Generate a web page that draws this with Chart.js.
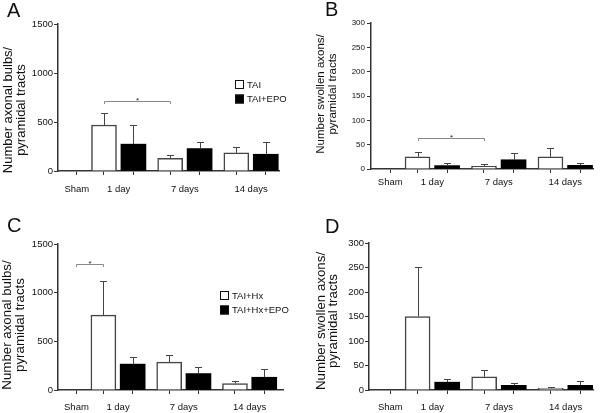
<!DOCTYPE html>
<html>
<head>
<meta charset="utf-8">
<script src="https://cdn.jsdelivr.net/npm/chart.js@4.4.1/dist/chart.umd.min.js"></script>
<style>
  body { margin: 0; background: #fff; }
  canvas { position: absolute; }
</style>
</head>
<body>
<canvas id="panelA" width="300" height="205" style="left:0;top:0"></canvas>
<canvas id="panelB" width="300" height="205" style="left:300px;top:0"></canvas>
<canvas id="panelC" width="300" height="208" style="left:0;top:205px"></canvas>
<canvas id="panelD" width="300" height="208" style="left:300px;top:205px"></canvas>
<script>
var groups = ['Sham', '1 day', '7 days', '14 days'];

// A - axonal bulbs, TAI vs TAI+EPO (mean, SEM; sham = 0)
var bulbsTai = [469, 130, 185];
var bulbsTaiSem = [120, 31, 65];
var bulbsTaiEpo = [274, 229, 171];
var bulbsTaiEpoSem = [195, 72, 120];

// B - swollen axons, TAI vs TAI+EPO
var swollenTai = [25, 5.5, 25];
var swollenTaiSem = [9, 4.5, 19];
var swollenTaiEpo = [7, 19, 7.5];
var swollenTaiEpoSem = [5, 13, 4.5];

// C - axonal bulbs, TAI+Hx vs TAI+Hx+EPO
var bulbsHx = [769, 286, 66];
var bulbsHxSem = [355, 76, 27];
var bulbsHxEpo = [266, 169, 131];
var bulbsHxEpoSem = [68, 69, 83];

// D - swollen axons, TAI+Hx vs TAI+Hx+EPO
var swollenHx = [150, 27, 3.4];
var swollenHxSem = [102, 13, 3.4];
var swollenHxEpo = [16, 9.5, 9.5];
var swollenHxEpoSem = [6, 4, 8];

var bulbTicks = [0, 500, 1000, 1500];
var swollenTicks = [0, 50, 100, 150, 200, 250, 300];

Chart.defaults.font.family = '"Liberation Sans", Arial, Helvetica, sans-serif';
Chart.defaults.color = '#111';

// sham sits alone, then one pair of bars every 2 units
var shamX = 0.18, pairGap = 0.89;
function groupX(g) { return 1 + 2 * g; }

var errorBars = {
  id: 'errorBars',
  afterDatasetsDraw: function(chart) {
    var ctx = chart.ctx, y = chart.scales.y;
    ctx.save();
    ctx.strokeStyle = '#444';
    ctx.lineWidth = 1;
    chart.data.datasets.forEach(function(ds, i) {
      chart.getDatasetMeta(i).data.forEach(function(bar, j) {
        var x = Math.round(bar.x) + 0.5;
        var top = Math.round(y.getPixelForValue(ds.data[j].y + ds.errors[j])) + 0.5;
        ctx.beginPath();
        ctx.moveTo(x, bar.y);
        ctx.lineTo(x, top);
        ctx.moveTo(x - 3.5, top);
        ctx.lineTo(x + 3.5, top);
        ctx.stroke();
      });
    });
    ctx.restore();
  }
};

// letter, two-line y title, legend, significance bracket
var panelDecor = {
  id: 'panelDecor',
  afterDraw: function(chart, args, o) {
    var ctx = chart.ctx;
    ctx.save();
    ctx.fillStyle = '#111';
    ctx.font = '20px "Liberation Sans", Arial, sans-serif';
    ctx.textAlign = 'left';
    ctx.textBaseline = 'alphabetic';
    ctx.fillText(o.letter, o.letterX, o.letterY);

    ctx.font = o.titleSize + 'px "Liberation Sans", Arial, sans-serif';
    ctx.textAlign = 'center';
    ctx.textBaseline = 'middle';
    o.title.forEach(function(line, i) {
      ctx.save();
      ctx.translate(o.titleX[i], o.titleY);
      ctx.rotate(-Math.PI / 2);
      ctx.fillText(line, 0, 0);
      ctx.restore();
    });

    if (o.legendX) {
      ctx.font = '9.5px "Liberation Sans", Arial, sans-serif';
      ctx.textAlign = 'left';
      chart.data.datasets.forEach(function(ds, i) {
        var y = o.legendY + i * 14.5;
        ctx.fillStyle = ds.backgroundColor;
        ctx.fillRect(o.legendX, y, 9, 9);
        ctx.strokeStyle = '#111';
        ctx.lineWidth = 1;
        ctx.strokeRect(o.legendX + 0.5, y + 0.5, 8, 8);
        ctx.fillStyle = '#111';
        ctx.fillText(ds.label, o.legendX + 12, y + 5);
      });
    }

    if (o.bracket) {
      var xs = chart.scales.x, ys = chart.scales.y;
      var x1 = Math.round(xs.getPixelForValue(o.bracket[0])) + 0.5;
      var x2 = Math.round(xs.getPixelForValue(o.bracket[1])) + 0.5;
      var by = Math.round(ys.getPixelForValue(o.bracket[2])) + 0.5;
      ctx.strokeStyle = '#888';
      ctx.lineWidth = 1;
      ctx.beginPath();
      ctx.moveTo(x1, by + 2.5);
      ctx.lineTo(x1, by);
      ctx.lineTo(x2, by);
      ctx.lineTo(x2, by + 2.5);
      ctx.stroke();
      ctx.fillStyle = '#222';
      ctx.font = '8px "Liberation Sans", Arial, sans-serif';
      ctx.textAlign = 'center';
      ctx.textBaseline = 'alphabetic';
      ctx.fillText('*', (x1 + x2) / 2, by + 1);
    }
    ctx.restore();
  }
};

function makePanel(id, o) {
  var canvas = document.getElementById(id);
  var W = canvas.width, H = canvas.height, a = o.area;
  var barX = [shamX], labelX = [shamX];
  for (var g = 0; g < 3; g++) {
    barX.push(groupX(g), groupX(g) + pairGap);
    labelX.push(groupX(g) + pairGap / 2);
  }
  function pts(vals, off) {
    return vals.map(function(v, g) { return { x: groupX(g) + off, y: v }; });
  }
  return new Chart(canvas, {
    type: 'bar',
    data: {
      datasets: [{
        label: o.names[0],
        data: pts(o.white, 0),
        errors: o.whiteSem,
        backgroundColor: '#ffffff',
        borderColor: '#444',
        borderWidth: 1.5,
        barThickness: 25,
        grouped: false
      }, {
        label: o.names[1],
        data: pts(o.black, pairGap),
        errors: o.blackSem,
        backgroundColor: '#000000',
        borderColor: '#000000',
        borderWidth: 0,
        barThickness: 25,
        grouped: false
      }]
    },
    options: {
      responsive: false,
      animation: false,
      events: [],
      layout: { padding: { left: 0, top: a.top, right: W - a.right, bottom: 0 } },
      plugins: { legend: { display: false }, tooltip: { enabled: false }, panelDecor: o.decor },
      scales: {
        x: {
          type: 'linear', min: o.xRange[0], max: o.xRange[1], weight: 0, offset: false,
          ticks: { display: false },
          grid: { drawOnChartArea: false, tickLength: 4, color: '#333', offset: false },
          border: { color: '#333', width: 1.5 },
          afterBuildTicks: function(s) { s.ticks = barX.map(function(v) { return { value: v }; }); },
          afterFit: function(s) { s.height = 0; }
        },
        x2: {
          type: 'linear', position: 'bottom', min: o.xRange[0], max: o.xRange[1], weight: 1, offset: false,
          grid: { display: false, offset: false },
          border: { display: false },
          ticks: {
            font: { size: 9.5 }, padding: o.labelPad, maxRotation: 0,
            callback: function(v, i) { return groups[i]; }
          },
          afterBuildTicks: function(s) { s.ticks = labelX.map(function(v) { return { value: v }; }); },
          afterFit: function(s) { s.height = H - a.bottom; }
        },
        y: {
          min: 0, max: o.ticks[o.ticks.length - 1],
          ticks: {
            stepSize: o.ticks[1] - o.ticks[0], font: { size: o.tickSize }, padding: o.tickPad,
            callback: function(v) { return String(v); }
          },
          grid: { drawOnChartArea: false, tickLength: 4, color: '#333' },
          border: { color: '#333', width: 1.5 },
          afterFit: function(s) { s.width = a.left; }
        }
      }
    },
    plugins: [errorBars, panelDecor]
  });
}

makePanel('panelA', {
  names: ['TAI', 'TAI+EPO'],
  white: bulbsTai, whiteSem: bulbsTaiSem, black: bulbsTaiEpo, blackSem: bulbsTaiEpoSem,
  ticks: bulbTicks, tickSize: 9.5, tickPad: 1,
  area: { left: 58, right: 279, top: 24, bottom: 171 },
  xRange: [-0.39, 6.29], labelPad: 5,
  decor: {
    letter: 'A', letterX: 7, letterY: 17,
    title: ['Number axonal bulbs/', 'pyramidal tracts'], titleSize: 13, titleX: [8, 21], titleY: 110,
    legendX: 235, legendY: 80,
    bracket: [1, 3, 714]
  }
});

makePanel('panelB', {
  names: ['TAI', 'TAI+EPO'],
  white: swollenTai, whiteSem: swollenTaiSem, black: swollenTaiEpo, blackSem: swollenTaiEpoSem,
  ticks: swollenTicks, tickSize: 8, tickPad: 2,
  area: { left: 71, right: 293, top: 23, bottom: 169 },
  xRange: [-0.40, 6.28], labelPad: 0,
  decor: {
    letter: 'B', letterX: 25, letterY: 16,
    title: ['Number swollen axons/', 'pyramidal tracts'], titleSize: 11.5, titleX: [21, 33], titleY: 94,
    bracket: [1, 3, 64]
  }
});

makePanel('panelC', {
  names: ['TAI+Hx', 'TAI+Hx+EPO'],
  white: bulbsHx, whiteSem: bulbsHxSem, black: bulbsHxEpo, blackSem: bulbsHxEpoSem,
  ticks: bulbTicks, tickSize: 9.5, tickPad: 1,
  area: { left: 58, right: 283, top: 39, bottom: 185 },
  xRange: [-0.38, 6.46], labelPad: 4,
  decor: {
    letter: 'C', letterX: 7, letterY: 27,
    title: ['Number axonal bulbs/', 'pyramidal tracts'], titleSize: 13.3, titleX: [7, 20], titleY: 120,
    legendX: 220, legendY: 86,
    bracket: [shamX, 1, 1293]
  }
});

makePanel('panelD', {
  names: ['TAI+Hx', 'TAI+Hx+EPO'],
  white: swollenHx, whiteSem: swollenHxSem, black: swollenHxEpo, blackSem: swollenHxEpoSem,
  ticks: swollenTicks, tickSize: 9.5, tickPad: 1,
  area: { left: 69, right: 293, top: 38, bottom: 185 },
  xRange: [-0.46, 6.27], labelPad: 4,
  decor: {
    letter: 'D', letterX: 25, letterY: 28,
    title: ['Number swollen axons/', 'pyramidal tracts'], titleSize: 13.3, titleX: [21.7, 33.3], titleY: 116
  }
});
</script>
</body>
</html>
